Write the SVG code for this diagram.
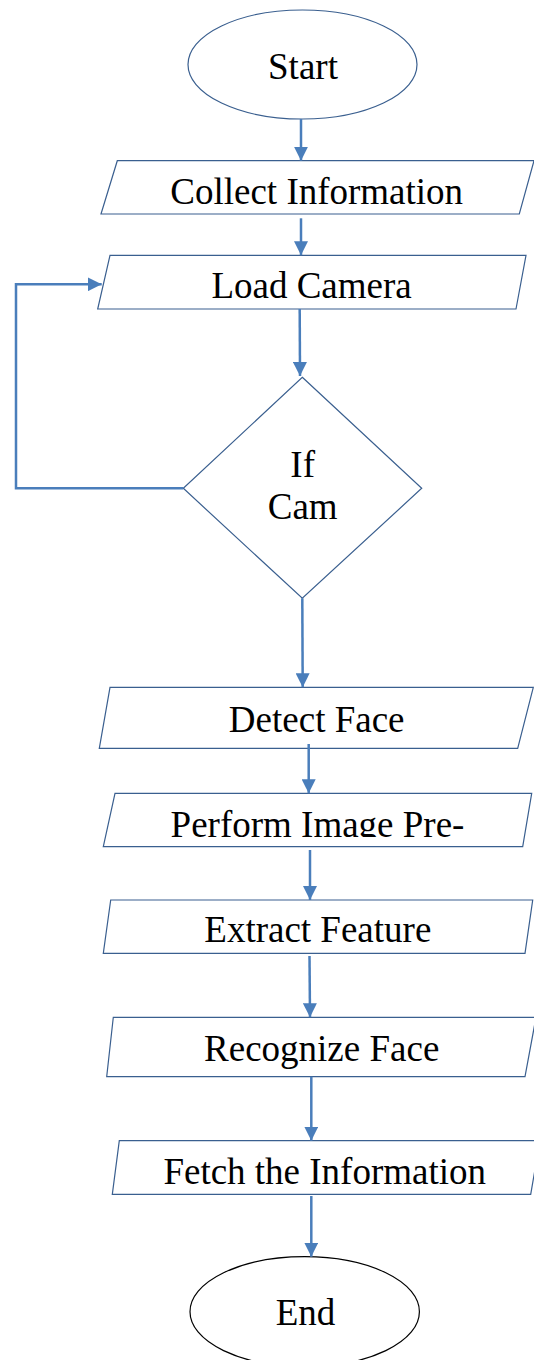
<svg xmlns="http://www.w3.org/2000/svg" width="534" height="1360" viewBox="0 0 534 1360">
<style>
.shape{fill:#fff;stroke:#3a5f8f;stroke-width:1.2}
.term{fill:#fff;stroke:#3a5f8f;stroke-width:1.2}
.endterm{fill:#fff;stroke:#000;stroke-width:1.2}
.lbl{font-family:"Liberation Serif","Times New Roman",serif;font-size:37px;fill:#000;text-anchor:middle}
.conn{fill:none;stroke:#4a7ebb;stroke-width:2.5}
</style>
<defs>
<marker id="ah" viewBox="0 0 14 14" markerWidth="14" markerHeight="14" refX="14" refY="7" orient="auto" markerUnits="userSpaceOnUse">
<path d="M0,0 L14,7 L0,14 z" fill="#4a7ebb"/>
</marker>
<clipPath id="clipPerform"><rect x="100" y="793" width="434" height="44"/></clipPath>
</defs>
<rect width="534" height="1360" fill="#fff"/>
<g id="start">
<ellipse class="term" cx="302.5" cy="64.5" rx="114.5" ry="54.5"/>
<text class="lbl" x="303" y="79">Start</text>
</g>
<g id="collect">
<polygon class="shape" points="117.3,160.7 534,160.7 519.3,214 101,214"/>
<text class="lbl" x="316.7" y="204.3">Collect Information</text>
</g>
<g id="load">
<polygon class="shape" points="110,255.3 526,255.3 516,309 97.7,309"/>
<text class="lbl" x="311.6" y="297.7">Load Camera</text>
</g>
<g id="ifcam">
<polygon class="shape" points="302.3,377.3 421.7,488.3 302.3,598.3 183.3,488.3"/>
<text class="lbl" x="302.7" y="476.7">If</text>
<text class="lbl" x="302.7" y="519.3">Cam</text>
</g>
<g id="detect">
<polygon class="shape" points="110,687.3 533.3,687.3 517.7,748.3 99.3,748.3"/>
<text class="lbl" x="316.7" y="731.7">Detect Face</text>
</g>
<g id="perform">
<polygon class="shape" points="115,793.3 531.7,793.3 522.7,846.7 103.3,846.7"/>
<text class="lbl" x="317.5" y="836.7" clip-path="url(#clipPerform)">Perform Image Pre-</text>
</g>
<g id="extract">
<polygon class="shape" points="110.7,900 532.7,900 525,953.3 103.3,953.3"/>
<text class="lbl" x="317.8" y="942.3">Extract Feature</text>
</g>
<g id="recognize">
<polygon class="shape" points="113.3,1017.3 536,1017.3 525,1076.7 106.7,1076.7"/>
<text class="lbl" x="321.7" y="1061">Recognize Face</text>
</g>
<g id="fetch">
<polygon class="shape" points="119.3,1140.7 540,1140.7 530.7,1194.3 112.3,1194.3"/>
<text class="lbl" x="324.7" y="1184.3">Fetch the Information</text>
</g>
<g id="end">
<ellipse class="endterm" cx="304.7" cy="1311.7" rx="114.7" ry="55"/>
<text class="lbl" x="305.5" y="1325">End</text>
</g>
<g id="connectors">
<line class="conn" x1="301" y1="119" x2="301" y2="160.7" marker-end="url(#ah)"/>
<line class="conn" x1="301" y1="218.3" x2="301" y2="255.3" marker-end="url(#ah)"/>
<line class="conn" x1="299.7" y1="309" x2="300" y2="376" marker-end="url(#ah)"/>
<path class="conn" d="M183.3,488.3 H16 V284.3 H101.7" marker-end="url(#ah)"/>
<line class="conn" x1="302.3" y1="598.3" x2="302.7" y2="687.3" marker-end="url(#ah)"/>
<line class="conn" x1="308.7" y1="744" x2="308.7" y2="793.3" marker-end="url(#ah)"/>
<line class="conn" x1="310" y1="850" x2="310" y2="900" marker-end="url(#ah)"/>
<line class="conn" x1="309.5" y1="956" x2="310" y2="1017.3" marker-end="url(#ah)"/>
<line class="conn" x1="311.3" y1="1076.7" x2="311.3" y2="1140.7" marker-end="url(#ah)"/>
<line class="conn" x1="311.3" y1="1196" x2="311.3" y2="1256.7" marker-end="url(#ah)"/>
</g>
</svg>
